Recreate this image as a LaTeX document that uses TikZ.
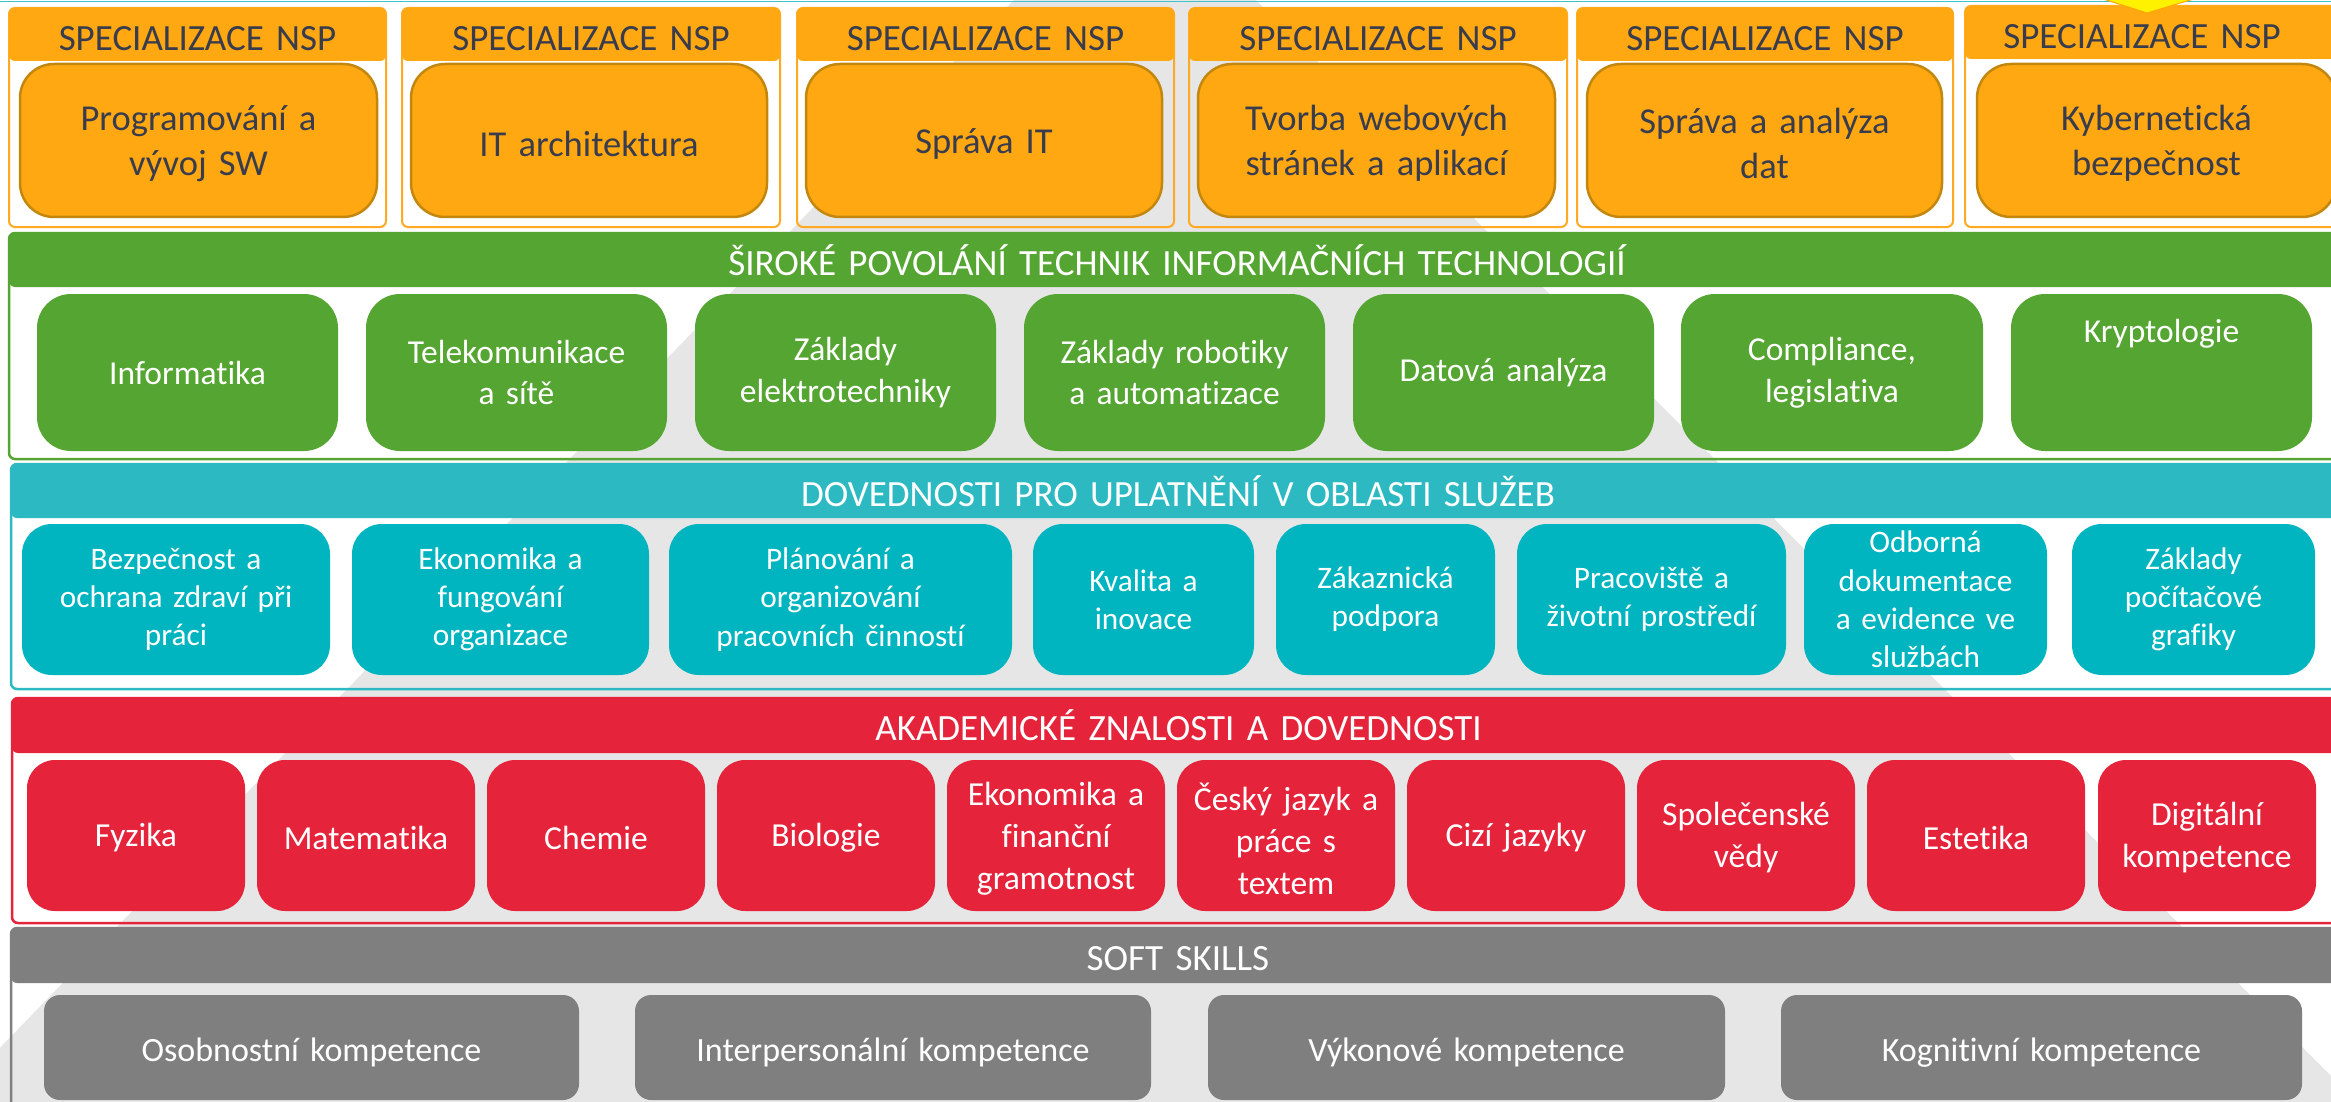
\documentclass[tikz,border=0pt]{standalone}
\usepackage{fontspec}
\setmainfont{Carlito}[Ligatures={NoCommon}]
\definecolor{orng}{HTML}{FFA812}
\definecolor{orngdark}{HTML}{C4870E}
\definecolor{orngline}{HTML}{FFAA22}
\definecolor{otext}{HTML}{383C4C}
\definecolor{grn}{HTML}{55A532}
\definecolor{tealh}{HTML}{2DB9C1}
\definecolor{tealb}{HTML}{00B5BF}
\definecolor{rd}{HTML}{E5233A}
\definecolor{gry}{HTML}{7F7F7F}
\definecolor{bgtri}{HTML}{E6E6E6}
\definecolor{topline}{HTML}{3EC3CB}
\newcommand\bx[8][0]{%
 \pgfmathsetmacro\bxcx{(#4+#6)/2}\pgfmathsetmacro\bxcy{(#5+#7)/2}%
 \pgfmathsetmacro\bxw{#6-#4}\pgfmathsetmacro\bxh{#7-#5}\pgfmathsetmacro\bxtw{#6-#4-16}%
 \node[#2, minimum width=\bxw, minimum height=\bxh] (#3) at (\bxcx,\bxcy) {};
 \node[#2, fill=none, draw=none, text width=\bxtw pt, yshift=#1pt] (#3t) at (#3.center) {#8};}
\tikzset{
 every node/.style={inner sep=0pt, outer sep=0pt, align=center},
 oframe/.style={draw=orngline, line width=2pt, rounded corners=6pt},
 obar/.style={fill=orng, rounded corners=6pt, text=otext, font=\fontsize{37}{44}\selectfont},
 obox/.style={fill=orng, draw=orngdark, line width=2.5pt, rounded corners=34pt, text=otext, font=\fontsize{36.5}{44.5}\selectfont},
 bframe/.style={draw=#1, line width=2.5pt, rounded corners=6pt},
 bbar/.style={fill=#1, rounded corners=6pt, text=white, font=\fontsize{37}{44}\selectfont},
 gbox/.style={fill=grn, rounded corners=34pt, text=white, font=\fontsize{33.5}{41.5}\selectfont},
 tbox/.style={fill=tealb, rounded corners=30pt, text=white, font=\fontsize{31.3}{38.2}\selectfont},
 rbox/.style={fill=rd, rounded corners=28pt, text=white, font=\fontsize{33.6}{42}\selectfont},
 sbox/.style={fill=gry, rounded corners=16pt, text=white, font=\fontsize{34}{41}\selectfont},
}
\begin{document}
\begin{tikzpicture}[x=1pt,y=-1pt]
\useasboundingbox (0,0) rectangle (2331,1102);
\begin{scope}
\clip (0,0) rectangle (2331,1102);
\fill[white] (0,0) rectangle (2331,1102);
\fill[bgtri] (1133,-123) -- (2370,1115) -- (-65,1115) -- cycle;
\draw[topline, line width=1.5pt] (0,1.5) -- (2331,1.5);
% ---------- orange panels ----------
\bx{oframe}{of1}{9}{8}{386}{227}{}
\bx{oframe}{of2}{402}{8}{780}{227}{}
\bx{oframe}{of3}{797}{8}{1174}{227}{}
\bx{oframe}{of4}{1189}{8}{1567}{227}{}
\bx{oframe}{of5}{1577}{8}{1953}{227}{}
\bx{oframe}{of6}{1965}{6}{2345}{227}{}
\bx[-4]{obar}{oh1}{9}{8}{386}{61}{SPECIALIZACE NSP}
\bx[-4]{obar}{oh2}{402}{8}{780}{61}{SPECIALIZACE NSP}
\bx[-4]{obar}{oh3}{797}{8}{1174}{61}{SPECIALIZACE NSP}
\bx[-4]{obar}{oh4}{1189}{8}{1567}{61}{SPECIALIZACE NSP}
\bx[-4]{obar}{oh5}{1577}{8}{1953}{61}{SPECIALIZACE NSP}
\bx[-4]{obar}{oh6}{1965}{6}{2345}{59}{\hspace*{-26pt}SPECIALIZACE NSP}
\bx[-3]{obox}{o1}{20}{64}{377}{217}{Programování a\\vývoj SW}
\bx[-3]{obox}{o2}{411}{64}{767}{217}{IT architektura}
\bx[-3]{obox}{o3}{806}{64}{1162}{217}{Správa IT}
\bx[-3]{obox}{o4}{1198}{64}{1555}{217}{Tvorba webových\\stránek a aplikací}
\bx[-3]{obox}{o5}{1587}{64}{1942}{217}{Správa a analýza\\dat}
\bx[-3]{obox}{o6}{1977}{64}{2336}{217}{Kybernetická\\bezpečnost}
\fill[yellow, draw=orange!70!yellow, line width=1pt] (2100,-2) -- (2197,-2) -- (2147,13) -- cycle;
% ---------- green band ----------
\bx{bframe=grn}{gf}{9}{233}{2345}{459}{}
\bx{bbar=grn}{gh}{9}{233}{2345}{287}{ŠIROKÉ POVOLÁNÍ TECHNIK INFORMAČNÍCH TECHNOLOGIÍ}
\bx{gbox}{g1}{37}{294}{338}{451}{Informatika}
\bx{gbox}{g2}{366}{294}{667}{451}{Telekomunikace\\a sítě}
\bx{gbox}{g3}{695}{294}{996}{451}{Základy\\elektrotechniky}
\bx{gbox}{g4}{1024}{294}{1325}{451}{Základy robotiky\\a automatizace}
\bx{gbox}{g5}{1353}{294}{1654}{451}{Datová analýza}
\bx{gbox}{g6}{1681}{294}{1983}{451}{Compliance,\\legislativa}
\bx[39]{gbox}{g7}{2011}{294}{2312}{451}{Kryptologie}
% ---------- teal band ----------
\bx{bframe=tealh}{tf}{11}{464}{2345}{689}{}
\bx{bbar=tealh}{th}{11}{464}{2345}{518}{DOVEDNOSTI PRO UPLATNĚNÍ V OBLASTI SLUŽEB}
\bx{tbox}{t1}{22}{524}{330}{675}{Bezpečnost a\\ochrana zdraví při\\práci}
\bx{tbox}{t2}{352}{524}{649}{675}{Ekonomika a\\fungování\\organizace}
\bx{tbox}{t3}{669}{524}{1012}{675}{Plánování a\\organizování\\pracovních činností}
\bx{tbox}{t4}{1033}{524}{1254}{675}{Kvalita a\\inovace}
\bx{tbox}{t5}{1276}{524}{1495}{675}{Zákaznická\\podpora}
\bx{tbox}{t6}{1517}{524}{1786}{675}{Pracoviště a\\životní prostředí}
\bx{tbox}{t7}{1804}{524}{2047}{675}{Odborná\\dokumentace\\a evidence ve\\službách}
\bx{tbox}{t8}{2072}{524}{2315}{675}{Základy\\počítačové\\grafiky}
% ---------- red band ----------
\bx{bframe=rd}{rf}{12}{698}{2345}{923}{}
\bx{bbar=rd}{rh}{12}{698}{2345}{753}{AKADEMICKÉ ZNALOSTI A DOVEDNOSTI}
\bx[-2]{rbox}{r1}{27}{760}{245}{911}{Fyzika}
\bx[-2]{rbox}{r2}{257}{760}{475}{911}{Matematika}
\bx[-2]{rbox}{r3}{487}{760}{705}{911}{Chemie}
\bx[-2]{rbox}{r4}{717}{760}{935}{911}{Biologie}
\bx[-3]{rbox}{r5}{947}{760}{1165}{911}{Ekonomika a\\finanční\\gramotnost}
\bx[-3]{rbox}{r6}{1177}{760}{1395}{911}{Český jazyk a\\práce s\\textem}
\bx[-2]{rbox}{r7}{1407}{760}{1625}{911}{Cizí jazyky}
\bx[-2]{rbox}{r8}{1637}{760}{1855}{911}{Společenské\\vědy}
\bx[-2]{rbox}{r9}{1867}{760}{2085}{911}{Estetika}
\bx[-2]{rbox}{r10}{2098}{760}{2316}{911}{Digitální\\kompetence}
% ---------- grey band ----------
\bx{bframe=gry}{sf}{11}{928}{2345}{1120}{}
\bx[-3]{bbar=gry}{sh}{11}{928}{2345}{983}{SOFT SKILLS}
\bx[-5]{sbox}{s1}{44}{995}{579}{1100}{Osobnostní kompetence}
\bx[-5]{sbox}{s2}{635}{995}{1151}{1100}{Interpersonální kompetence}
\bx[-5]{sbox}{s3}{1208}{995}{1725}{1100}{Výkonové kompetence}
\bx[-5]{sbox}{s4}{1781}{995}{2302}{1100}{Kognitivní kompetence}
\end{scope}
\end{tikzpicture}
\end{document}
